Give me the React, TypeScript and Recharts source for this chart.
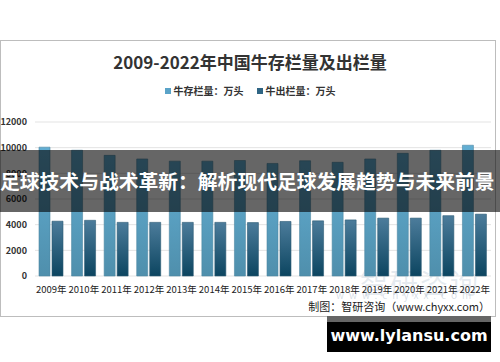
import { BarChart, Bar, XAxis, YAxis, CartesianGrid, Legend } from 'recharts'

const years = ['2009年', '2010年', '2011年', '2012年', '2013年', '2014年', '2015年', '2016年', '2017年', '2018年', '2019年', '2020年', '2021年', '2022年']
const stock = [10040, 9800, 9400, 9120, 8950, 8950, 9000, 8770, 8980, 8860, 9120, 9560, 9800, 10190]
const slaughter = [4270, 4340, 4180, 4180, 4180, 4180, 4160, 4250, 4300, 4370, 4510, 4510, 4700, 4820]
const yTicks = [0, 2000, 4000, 6000, 8000, 10000, 12000]

const data = years.map((year, i) => ({ year, stock: stock[i], slaughter: slaughter[i] }))

const font = '"Noto Sans CJK SC", "Noto Sans", sans-serif'

function LegendBox() {
  const items = [
    { label: '牛存栏量：万头', color: '#5aa3c8' },
    { label: '牛出栏量：万头', color: '#2f6584' },
  ]
  return (
    <div style={{ display: 'flex', justifyContent: 'center', gap: 13, fontFamily: font, fontSize: 10, fontWeight: 700, color: '#333' }}>
      {items.map((it) => (
        <span key={it.label} style={{ display: 'flex', alignItems: 'center' }}>
          <span style={{ width: 6, height: 6, background: it.color, marginRight: 3, display: 'inline-block' }} />
          {it.label}
        </span>
      ))}
    </div>
  )
}

export default function App() {
  return (
    <div style={{ position: 'absolute', left: 0, top: 0, width: 500, height: 362, background: '#fff', overflow: 'hidden' }}>
      <div style={{ position: 'absolute', left: 0, top: 40, width: 494, height: 275, border: '1px solid #bdbdbd' }} />
      <div style={{ position: 'absolute', left: 0, top: 49, width: 500, textAlign: 'center', fontFamily: font, fontSize: 17, fontWeight: 700, color: '#333', lineHeight: '26px' }}>
        2009-2022年中国牛存栏量及出栏量
      </div>
      <div style={{ position: 'absolute', left: 360, top: 262, fontFamily: font, fontSize: 28, color: 'rgba(140,160,185,0.22)', letterSpacing: 2 }}>
        智研咨询
      </div>
      <div style={{ position: 'absolute', left: 336, top: 287, fontFamily: font, fontSize: 10, color: 'rgba(140,160,185,0.35)', letterSpacing: 5 }}>
        www.chyxx.com
      </div>
      <BarChart width={500} height={362} data={data} margin={{ top: 107, right: 9, left: 0, bottom: 30 }} barSize={11} barGap={2} style={{ position: 'absolute', left: 0, top: 0 }}>
        <defs>
          <linearGradient id="gStock" x1="0" y1="0" x2="0" y2="1">
            <stop offset="0%" stopColor="#62aed3" />
            <stop offset="100%" stopColor="#4f8fac" />
          </linearGradient>
          <linearGradient id="gSlaughter" x1="0" y1="0" x2="0" y2="1">
            <stop offset="0%" stopColor="#4c7c9b" />
            <stop offset="100%" stopColor="#0c4560" />
          </linearGradient>
        </defs>
        <CartesianGrid vertical={false} stroke="#e3e3e3" />
        <XAxis dataKey="year" axisLine={false} tickLine={false} height={56} interval={0} tickMargin={4} tick={{ fontFamily: font, fontSize: 9.5, fill: '#222' }} />
        <YAxis domain={[0, 12000]} ticks={yTicks} width={35} axisLine={false} tickLine={false} tick={{ fontFamily: font, fontSize: 9, fontWeight: 700, fill: '#333' }} />
        <Legend verticalAlign="top" wrapperStyle={{ top: 83, left: 0, width: 500 }} content={() => <LegendBox />} />
        <Bar dataKey="stock" fill="url(#gStock)" stroke="#4d88a3" strokeWidth={0.6} isAnimationActive={false} />
        <Bar dataKey="slaughter" fill="url(#gSlaughter)" stroke="#2c5a74" strokeWidth={0.6} isAnimationActive={false} />
      </BarChart>
      <div style={{ position: 'absolute', right: 10, top: 298, fontFamily: font, fontSize: 11, color: '#222' }}>
        制图：智研咨询（www.chyxx.com）
      </div>
      <div style={{ position: 'absolute', left: 0, top: 150, width: 500, height: 62, background: 'rgba(0,0,0,0.6)' }}>
        <div style={{ position: 'absolute', left: 0, top: 17, whiteSpace: 'nowrap', fontFamily: font, fontSize: 19.8, fontWeight: 700, color: '#fff', lineHeight: '28px' }}>
          足球技术与战术革新：解析现代足球发展趋势与未来前景
        </div>
      </div>
      <div style={{ position: 'absolute', left: 327, top: 316, width: 164, height: 36, background: '#000' }}>
        <div style={{ height: 6, background: '#666' }} />
        <div style={{ textAlign: 'center', fontFamily: '"DejaVu Sans", sans-serif', fontSize: 16, fontWeight: 700, color: '#fff', lineHeight: '28px' }}>
          www.lylansu.com
        </div>
      </div>
    </div>
  )
}
